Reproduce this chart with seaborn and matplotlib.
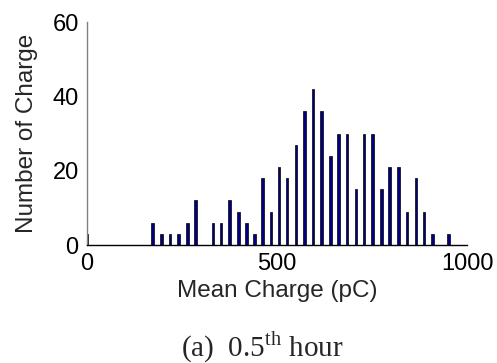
import matplotlib
matplotlib.use("Agg")
import matplotlib.pyplot as plt
import seaborn as sns
import pandas as pd

# Mean charge bins (pC) and the number of charges in each
charge_pc = [0, 173, 196, 218, 241, 264, 285, 331, 353, 375, 398, 420, 441,
             462, 484, 505, 526, 550, 572, 595, 617, 640, 662, 684, 708, 729,
             751, 774, 796, 819, 842, 865, 886, 909, 951]
counts = [3, 6, 3, 3, 3, 6, 12, 6, 6, 12, 9, 6, 3,
          18, 9, 21, 18, 27, 36, 42, 36, 24, 30, 30, 15, 30,
          30, 15, 21, 21, 9, 18, 9, 3, 3]
x_ticks = [0, 500, 1000]
y_ticks = [0, 20, 40, 60]

df = pd.DataFrame({"charge": charge_pc, "count": counts})

sns.set_style("white")
plt.rcParams["font.family"] = ["Liberation Sans", "DejaVu Sans"]
plt.rcParams["mathtext.fontset"] = "custom"
plt.rcParams["mathtext.rm"] = "Liberation Serif"

fig = plt.figure(figsize=(4.97, 3.63), dpi=100)
ax = fig.add_axes([0.175, 0.325, 0.765, 0.614])

sns.barplot(data=df, x="charge", y="count", native_scale=True, orient="x",
            width=0.32, color="#000080", saturation=1, edgecolor="black",
            linewidth=0.5, errorbar=None, ax=ax)

ax.set_xlim(0, 1000)
ax.set_ylim(0, 60)
ax.set_xticks(x_ticks)
ax.set_yticks(y_ticks)
ax.tick_params(direction="in", length=3, width=0.6, labelsize=17, pad=6,
               colors="black")
ax.set_xlabel("Mean Charge (pC)", fontsize=17.5, labelpad=3)
ax.set_ylabel("Number of Charge", fontsize=17.5, labelpad=10)

for side in ("top", "right"):
    ax.spines[side].set_visible(False)
ax.spines["left"].set_color("#808080")
ax.spines["left"].set_linewidth(1.0)
ax.spines["bottom"].set_color("black")
ax.spines["bottom"].set_linewidth(1.0)

fig.text(262 / 497, 0.019, r"(a)  0.5$^{\rm th}$ hour", ha="center",
         va="baseline", fontsize=21, family=["Liberation Serif", "DejaVu Serif"])

fig.savefig("out.png", dpi=100)
